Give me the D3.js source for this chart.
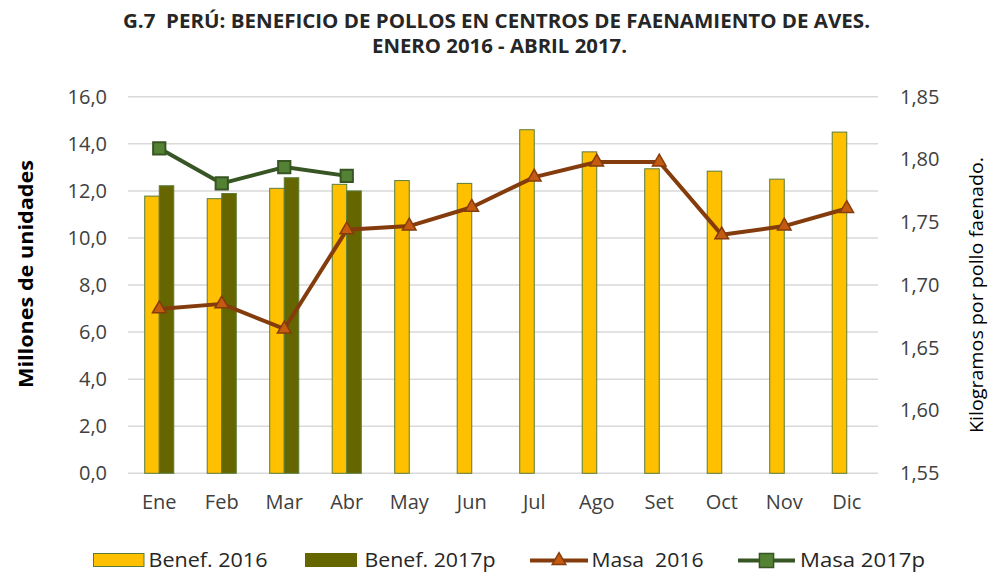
<!DOCTYPE html>
<html><head><meta charset="utf-8">
<script src="https://cdn.jsdelivr.net/npm/d3@7"></script>
<style>
body{margin:0;background:#fff;}
svg{display:block;font-family:"Open Sans",sans-serif;}
text{white-space:pre;}
</style></head>
<body><svg id="c" width="991" height="572"></svg>
<script>
const months = ["Ene","Feb","Mar","Abr","May","Jun","Jul","Ago","Set","Oct","Nov","Dic"];
const benef2016 = [11.78,11.67,12.11,12.28,12.44,12.32,14.60,13.66,12.94,12.84,12.50,14.50];
const benef2017 = [12.22,11.89,12.56,12.00];
const masa2016 = [1.681,1.685,1.665,1.744,1.747,1.762,1.786,1.798,1.798,1.740,1.747,1.761];
const masa2017 = [1.809,1.781,1.794,1.787];
const leftTicks = [0,2,4,6,8,10,12,14,16];
const rightTicks = [1.55,1.60,1.65,1.70,1.75,1.80,1.85];
const titleLines = ["G.7  PERÚ: BENEFICIO DE POLLOS EN CENTROS DE FAENAMIENTO DE AVES.","ENERO 2016 - ABRIL 2017."];
const seriesNames = ["Benef. 2016","Benef. 2017p","Masa  2016","Masa 2017p"];

const svg = d3.select("#c");
const L = 128, R = 878, T = 96.8, B = 473.3;
const x = d3.scaleBand().domain(months).range([L,R]).padding(0);
const xs = d3.scaleBand().domain(["a","b"]).range([0,x.bandwidth()]).paddingInner(0).paddingOuter(1.15);
const yL = d3.scaleLinear().domain([0,16]).range([B,T]);
const yR = d3.scaleLinear().domain([1.55,1.85]).range([B,T]);

// gridlines
svg.append("g").selectAll("line").data(leftTicks).join("line")
  .attr("x1",L).attr("x2",R).attr("y1",d=>yL(d)).attr("y2",d=>yL(d))
  .attr("stroke","#d9d9d9").attr("stroke-width",1.5);

// axes
const fmt1 = d=>d.toFixed(1).replace(".",",");
const fmt2 = d=>d.toFixed(2).replace(".",",");
const ga = svg.append("g").attr("transform",`translate(${L},0)`)
  .call(d3.axisLeft(yL).tickValues(leftTicks).tickFormat(fmt1).tickSize(0).tickPadding(21));
ga.select(".domain").remove();
ga.selectAll("text").attr("font-size",20).attr("fill","#404040").attr("font-family","Open Sans");
const gr = svg.append("g").attr("transform",`translate(${R},0)`)
  .call(d3.axisRight(yR).tickValues(rightTicks).tickFormat(fmt2).tickSize(0).tickPadding(22));
gr.select(".domain").remove();
gr.selectAll("text").attr("font-size",20).attr("fill","#404040").attr("font-family","Open Sans");
const gx = svg.append("g").attr("transform",`translate(0,${B})`)
  .call(d3.axisBottom(x).tickSize(0).tickPadding(22));
gx.select(".domain").remove();
gx.selectAll("text").attr("font-size",20).attr("fill","#404040").attr("font-family","Open Sans");

// bars
svg.append("g").selectAll("rect").data(benef2016).join("rect")
  .attr("x",(d,i)=>x(months[i])+xs("a")).attr("width",xs.bandwidth())
  .attr("y",d=>yL(d)).attr("height",d=>B-yL(d))
  .attr("fill","#FFC000").attr("stroke","#5b7c3a").attr("stroke-width",1);
svg.append("g").selectAll("rect").data(benef2017).join("rect")
  .attr("x",(d,i)=>x(months[i])+xs("b")).attr("width",xs.bandwidth())
  .attr("y",d=>yL(d)).attr("height",d=>B-yL(d))
  .attr("fill","#666600").attr("stroke","#5b7c3a").attr("stroke-width",1);

const cx = i=>x(months[i])+x.bandwidth()/2;
const line = d3.line().x((d,i)=>cx(i)).y(d=>yR(d));
svg.append("path").datum(masa2016).attr("d",line).attr("fill","none")
  .attr("stroke","#843C0C").attr("stroke-width",4).attr("stroke-linejoin","round");
svg.append("path").datum(masa2017).attr("d",line).attr("fill","none")
  .attr("stroke","#375623").attr("stroke-width",4).attr("stroke-linejoin","round");

const tri = d3.symbol().type(d3.symbolTriangle).size(80);
const sq = d3.symbol().type(d3.symbolSquare).size(150);
svg.append("g").selectAll("path").data(masa2016).join("path")
  .attr("d",tri).attr("transform",(d,i)=>`translate(${cx(i)},${yR(d)})`)
  .attr("fill","#C55A11").attr("stroke","#843C0C").attr("stroke-width",1.5);
svg.append("g").selectAll("path").data(masa2017).join("path")
  .attr("d",sq).attr("transform",(d,i)=>`translate(${cx(i)},${yR(d)})`)
  .attr("fill","#548235").attr("stroke","#375623").attr("stroke-width",2);

// title
svg.append("text").attr("x",496.5).attr("y",28).attr("text-anchor","middle")
  .attr("font-weight","bold").attr("font-size",20).attr("fill","#262626")
  .attr("textLength",747).attr("lengthAdjust","spacingAndGlyphs").text(titleLines[0]);
svg.append("text").attr("x",499.5).attr("y",53).attr("text-anchor","middle")
  .attr("font-weight","bold").attr("font-size",20).attr("fill","#262626")
  .attr("textLength",255).attr("lengthAdjust","spacingAndGlyphs").text(titleLines[1]);

// axis titles
svg.append("text").attr("transform","translate(33,274) rotate(-90)").attr("text-anchor","middle")
  .attr("font-weight","bold").attr("font-size",20).attr("fill","#000")
  .attr("textLength",228).attr("lengthAdjust","spacingAndGlyphs").text("Millones de unidades");
svg.append("text").attr("transform","translate(983,295) rotate(-90)").attr("text-anchor","middle")
  .attr("font-size",19).attr("fill","#000")
  .attr("textLength",276).attr("lengthAdjust","spacingAndGlyphs").text("Kilogramos por pollo faenado.");

// legend
const leg = svg.append("g");
const ly = 560.5;
leg.append("rect").attr("x",93.5).attr("y",553.5).attr("width",50.5).attr("height",13)
  .attr("fill","#FFC000").attr("stroke","#5b7c3a").attr("stroke-width",1);
leg.append("rect").attr("x",305).attr("y",553).attr("width",52).attr("height",14)
  .attr("fill","#666600");
leg.append("line").attr("x1",530).attr("x2",588).attr("y1",ly).attr("y2",ly).attr("stroke","#843C0C").attr("stroke-width",4);
leg.append("path").attr("d",tri).attr("transform",`translate(559,${ly})`).attr("fill","#C55A11").attr("stroke","#843C0C").attr("stroke-width",1.5);
leg.append("line").attr("x1",738).attr("x2",795).attr("y1",ly).attr("y2",ly).attr("stroke","#375623").attr("stroke-width",4);
leg.append("path").attr("d",d3.symbol().type(d3.symbolSquare).size(200)).attr("transform",`translate(766.5,${ly})`).attr("fill","#548235").attr("stroke","#375623").attr("stroke-width",1.5);
const legX = [148.5,364.5,591.5,800];
const legW = [119,131,112,125];
leg.selectAll("text.l").data(seriesNames).join("text").attr("class","l")
  .attr("x",(d,i)=>legX[i]).attr("y",566.7).attr("font-size",20).attr("fill","#262626")
  .attr("textLength",(d,i)=>legW[i]).attr("lengthAdjust","spacingAndGlyphs").text(d=>d);
</script></body></html>
